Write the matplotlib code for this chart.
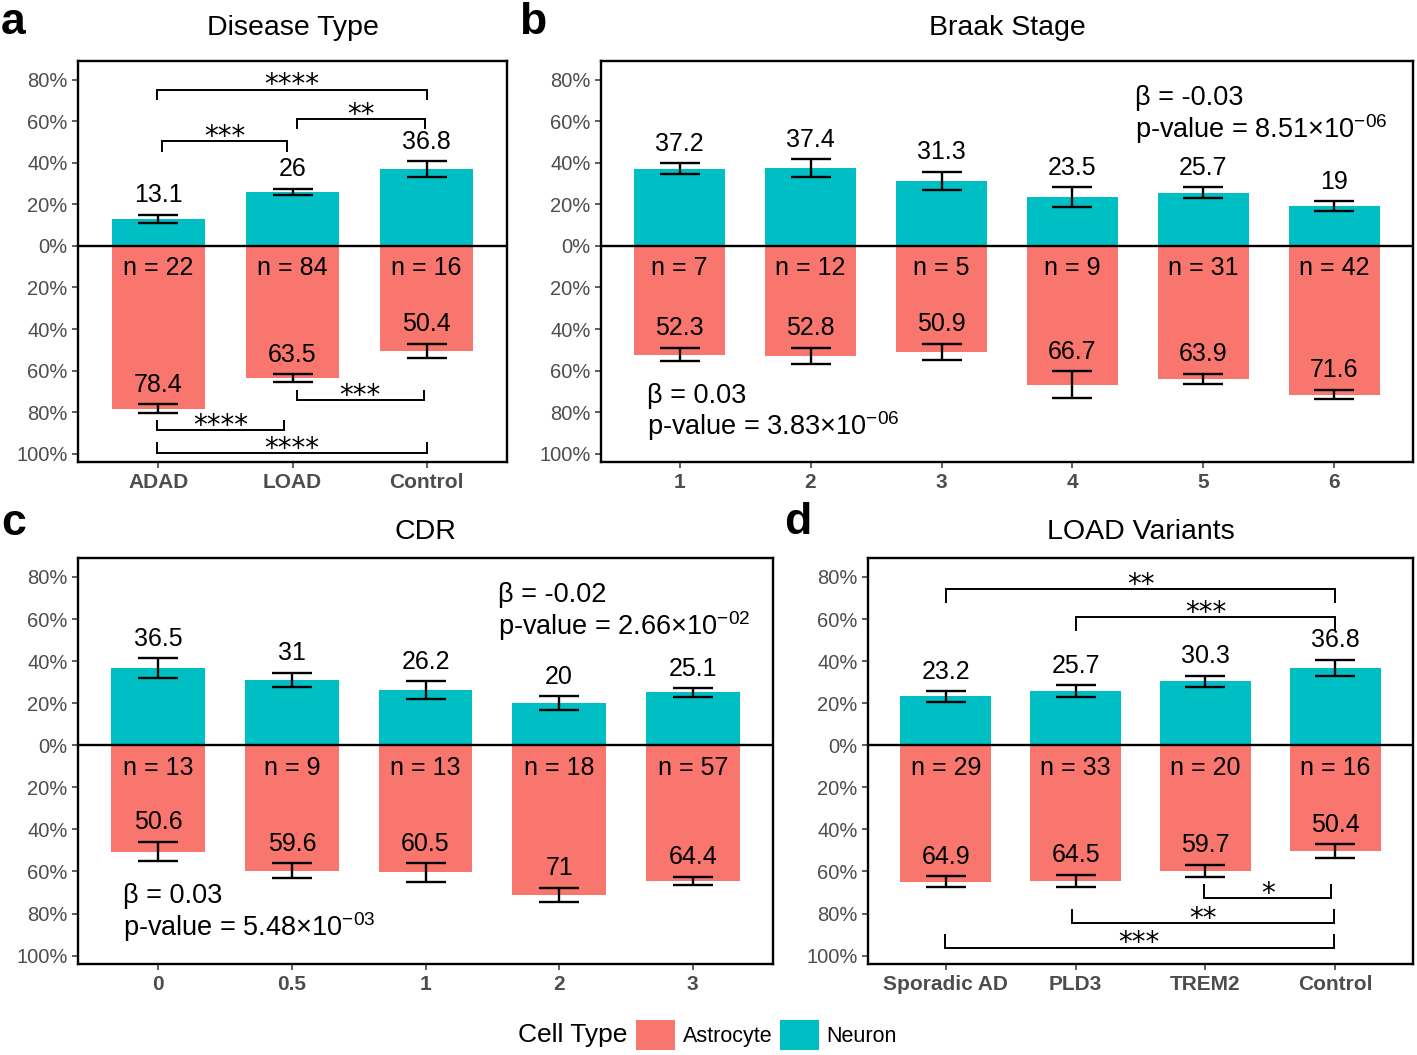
import matplotlib
matplotlib.use('Agg')
import matplotlib.pyplot as plt
from matplotlib.patches import Patch
from matplotlib.ticker import FixedLocator, FuncFormatter

plt.rcParams['font.family'] = ['Liberation Sans', 'DejaVu Sans']
plt.rcParams['mathtext.fontset'] = 'custom'
plt.rcParams['mathtext.rm'] = 'Liberation Sans'
plt.rcParams['mathtext.it'] = 'Liberation Sans:italic'
plt.rcParams['mathtext.bf'] = 'Liberation Sans:bold'

TEAL = '#00BFC4'
SALMON = '#F8766D'
series = ['Astrocyte', 'Neuron']

# ---------------- data ----------------
# Panel a: Disease Type
a_cats = ['ADAD', 'LOAD', 'Control']
a_neuron = [13.1, 26.0, 36.8]
a_neuron_se = [1.9, 1.55, 3.85]
a_astro = [78.4, 63.5, 50.4]
a_astro_se = [2.2, 1.8, 3.35]
a_n = [22, 84, 16]
a_sig_top = [(-0.01, 2.00, 75.2, '****'), (1.03, 1.99, 61.2, '**'), (0.03, 0.96, 50.3, '***')]
a_sig_bot = [(1.03, 1.98, -74.2, '***'), (-0.01, 0.94, -88.7, '****'), (-0.01, 2.00, -99.6, '****')]

# Panel b: Braak Stage
b_cats = ['1', '2', '3', '4', '5', '6']
b_neuron = [37.2, 37.4, 31.3, 23.5, 25.7, 19.0]
b_neuron_se = [2.7, 4.2, 4.5, 4.8, 2.6, 2.4]
b_astro = [52.3, 52.8, 50.9, 66.7, 63.9, 71.6]
b_astro_se = [3.3, 3.8, 3.9, 6.4, 2.4, 2.3]
b_n = [7, 12, 5, 9, 31, 42]
b_stats_top = ('-0.03', '8.51', '-06')
b_stats_bot = ('0.03', '3.83', '-06')

# Panel c: CDR
c_cats = ['0', '0.5', '1', '2', '3']
c_neuron = [36.5, 31.0, 26.2, 20.0, 25.1]
c_neuron_se = [4.75, 3.5, 4.2, 3.25, 2.0]
c_astro = [50.6, 59.6, 60.5, 71.0, 64.4]
c_astro_se = [4.6, 3.5, 4.3, 3.3, 1.9]
c_n = [13, 9, 13, 18, 57]
c_stats_top = ('-0.02', '2.66', '-02')
c_stats_bot = ('0.03', '5.48', '-03')

# Panel d: LOAD Variants
d_cats = ['Sporadic AD', 'PLD3', 'TREM2', 'Control']
d_neuron = [23.2, 25.7, 30.3, 36.8]
d_neuron_se = [2.45, 2.8, 2.7, 3.85]
d_astro = [64.9, 64.5, 59.7, 50.4]
d_astro_se = [2.5, 2.85, 2.85, 3.35]
d_n = [29, 33, 20, 16]
d_sig_top = [(0.00, 3.00, 74.1, '**'), (1.00, 3.00, 61.0, '***')]
d_sig_bot = [(1.99, 2.97, -72.6, '*'), (0.97, 2.99, -84.5, '**'), (-0.01, 2.99, -96.2, '***')]

yticks = [80, 60, 40, 20, 0, -20, -40, -60, -80, -100]

# ---------------- figure ----------------
W, H = 1417, 1055
fig = plt.figure(figsize=(W / 100, H / 100), dpi=100)


def px_axes(l, r, t, b):
    return fig.add_axes([l / W, 1 - b / H, (r - l) / W, (b - t) / H])


def panel(ax, cats, neu, neu_se, ast, ast_se, n, title, title_pad):
    x = list(range(len(cats)))
    ax.bar(x, neu, width=0.7, color=TEAL, linewidth=0, zorder=2)
    ax.bar(x, [-v for v in ast], width=0.7, color=SALMON, linewidth=0, zorder=2)
    ax.axhline(0, color='black', lw=1.7, zorder=3)
    ax.errorbar(x, neu, yerr=neu_se, fmt='none', ecolor='black', elinewidth=1.7,
                capsize=14.5, capthick=1.7, zorder=4)
    ax.errorbar(x, [-v for v in ast], yerr=ast_se, fmt='none', ecolor='black',
                elinewidth=1.7, capsize=14.5, capthick=1.7, zorder=4)
    for xi, v, s in zip(x, neu, neu_se):
        ax.text(xi, v + s + 6, f'{v:g}', ha='center', va='baseline', fontsize=18, zorder=5)
    for xi, v, s in zip(x, ast, ast_se):
        ax.text(xi, -(v - s) + 6, f'{v:g}', ha='center', va='baseline', fontsize=18, zorder=5)
    for xi, k in zip(x, n):
        ax.text(xi, -14, f'n = {k}', ha='center', va='baseline', fontsize=18, zorder=5)
    ax.set_xlim(-0.6, len(cats) - 0.4)
    ax.set_ylim(-104, 89)
    ax.set_xticks(x)
    ax.set_xticklabels(cats, fontsize=15, fontweight='bold', color='#4D4D4D')
    ax.yaxis.set_major_locator(FixedLocator(yticks))
    ax.yaxis.set_major_formatter(FuncFormatter(lambda v, p: f'{abs(v):.0f}%'))
    ax.tick_params(axis='y', labelsize=14.5, labelcolor='#4D4D4D', color='#333333',
                   length=4, width=1.1, pad=3.5)
    ax.tick_params(axis='x', color='#333333', length=4, width=1.1, pad=4)
    for sp in ax.spines.values():
        sp.set_linewidth(1.7)
        sp.set_color('black')
    ax.set_title(title, fontsize=20.5, pad=title_pad)


def brackets(ax, sig, tip, top):
    for x1, x2, y, lab in sig:
        yt = y - tip if top else y + tip
        ax.plot([x1, x1, x2, x2], [yt, y, y, yt], color='black', lw=1.4, zorder=5,
                solid_joinstyle='miter')
        ax.text((x1 + x2) / 2, y - 1.8, lab, ha='center', va='baseline', fontsize=20,
                family='DejaVu Sans', zorder=5)


def stats(ax, xpos, ybeta, stat):
    beta, mant, expo = stat
    ax.text(xpos, ybeta, f'β = {beta}', ha='left', va='baseline', fontsize=19.5, zorder=6)
    ax.text(xpos, ybeta - 15.7, f'p-value = {mant}×10$^{{{expo}}}$', ha='left',
            va='baseline', fontsize=19.5, zorder=6)


ax_a = px_axes(78, 507, 61, 462)
panel(ax_a, a_cats, a_neuron, a_neuron_se, a_astro, a_astro_se, a_n, 'Disease Type', 18.7)
brackets(ax_a, a_sig_top, 4.6, True)
brackets(ax_a, a_sig_bot, 4.6, False)

ax_b = px_axes(601, 1413, 61, 462)
panel(ax_b, b_cats, b_neuron, b_neuron_se, b_astro, b_astro_se, b_n, 'Braak Stage', 18.7)
stats(ax_b, 3.48, 67.8, b_stats_top)
stats(ax_b, -0.25, -75.4, b_stats_bot)

ax_c = px_axes(78, 773, 558, 964)
panel(ax_c, c_cats, c_neuron, c_neuron_se, c_astro, c_astro_se, c_n, 'CDR', 13.5)
stats(ax_c, 2.545, 68.0, c_stats_top)
stats(ax_c, -0.265, -75.0, c_stats_bot)

ax_d = px_axes(868, 1413, 558, 964)
panel(ax_d, d_cats, d_neuron, d_neuron_se, d_astro, d_astro_se, d_n, 'LOAD Variants', 13.5)
brackets(ax_d, d_sig_top, 6.0, True)
brackets(ax_d, d_sig_bot, 6.0, False)

# panel letters
for lab, xp, yp in [('a', 1, 34), ('b', 519, 34), ('c', 1, 535), ('d', 784, 534)]:
    fig.text(xp / W, 1 - yp / H, lab, fontsize=32, fontweight='bold', ha='left', va='baseline')

# legend
handles = [Patch(facecolor=SALMON, edgecolor='none', label=series[0]),
           Patch(facecolor=TEAL, edgecolor='none', label=series[1])]
fig.legend(handles=handles, loc='center', bbox_to_anchor=(766.5 / W, 1 - 1035 / H), ncol=2,
           frameon=False, fontsize=15.5, handlelength=1.8, handleheight=1.8,
           handletextpad=0.35, columnspacing=0.35, borderaxespad=0, borderpad=0)
fig.text(572.5 / W, 1 - 1035 / H, 'Cell Type', ha='center', va='center', fontsize=19)

fig.savefig('out.png', dpi=100)
